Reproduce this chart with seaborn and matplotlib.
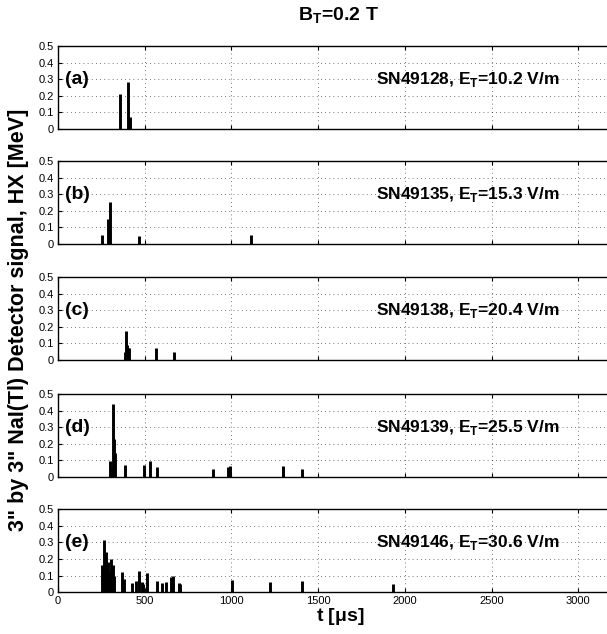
import matplotlib
matplotlib.use("Agg")
import matplotlib.pyplot as plt
import seaborn as sns
import pandas as pd

t_a = [358, 401, 415]
h_a = [0.21, 0.285, 0.075]

t_b = [252, 290, 298, 469, 1113]
h_b = [0.052, 0.15, 0.255, 0.05, 0.055]

t_c = [385, 392, 398, 404, 410, 566, 666]
h_c = [0.05, 0.176, 0.09, 0.07, 0.07, 0.072, 0.05]

t_d = [302, 310, 319, 323, 328, 389, 495, 528, 570, 895, 983, 990, 1295, 1300, 1404]
h_d = [0.096, 0.06, 0.438, 0.23, 0.145, 0.072, 0.07, 0.098, 0.058, 0.05, 0.06, 0.065, 0.06, 0.065, 0.05]

t_e = [255, 264, 278, 287, 296, 306, 316, 325, 370, 378, 428, 451, 467, 482, 490,
       512, 570, 597, 624, 650, 661, 697, 703, 1002, 1225, 1404, 1932]
h_e = [0.165, 0.315, 0.24, 0.18, 0.12, 0.2, 0.165, 0.1, 0.124, 0.08, 0.054, 0.07, 0.128, 0.06, 0.05,
       0.114, 0.068, 0.054, 0.06, 0.09, 0.1, 0.054, 0.05, 0.077, 0.06, 0.065, 0.05]

panel_tags = ["(a)", "(b)", "(c)", "(d)", "(e)"]
shots = ["SN49128", "SN49135", "SN49138", "SN49139", "SN49146"]
fields = ["10.2", "15.3", "20.4", "25.5", "30.6"]

df = pd.concat([
    pd.DataFrame({"t": t, "h": h, "panel": p})
    for t, h, p in zip([t_a, t_b, t_c, t_d, t_e], [h_a, h_b, h_c, h_d, h_e], panel_tags)
])

sns.set_style("ticks")
plt.rcParams["font.family"] = ["Liberation Sans", "DejaVu Sans"]
plt.rcParams["mathtext.fontset"] = "custom"
plt.rcParams["mathtext.rm"] = "Liberation Sans"
plt.rcParams["mathtext.bf"] = "Liberation Sans:bold"
plt.rcParams["text.color"] = "black"
plt.rcParams["axes.labelcolor"] = "black"
plt.rcParams["xtick.color"] = "black"
plt.rcParams["ytick.color"] = "black"

fig = plt.figure(figsize=(6.07, 6.34), dpi=100)
bottoms = [0.7965, 0.6151, 0.4322, 0.2476, 0.0658]
axes = []
for i, tag in enumerate(panel_tags):
    ax = fig.add_axes([0.0956, bottoms[i], 0.9285, 0.1309])
    sub = df[df.panel == tag]
    ax.vlines(sub.t, 0, sub.h, color="black", lw=2.1)
    ax.set_xlim(0, 3250)
    ax.set_ylim(0, 0.5)
    ax.set_xticks(range(0, 3001, 500))
    ax.set_yticks([0, 0.1, 0.2, 0.3, 0.4, 0.5])
    ax.set_yticklabels(["0", "0.1", "0.2", "0.3", "0.4", "0.5"])
    ax.grid(True, linestyle=(0, (1, 4)), color="black", lw=0.6, alpha=0.7)
    ax.tick_params(direction="in", top=True, right=True, length=3,
                   labelsize=8, width=0.8, pad=3)
    for s in ax.spines.values():
        s.set_linewidth(1.0)
        s.set_color("black")
    if i < 4:
        ax.set_xticklabels([])
    ax.text(40, 0.3, tag, fontsize=14, fontweight="bold", va="center", ha="left")
    ax.text(2360, 0.3, shots[i] + r", E$_{\mathbf{T}}$=" + fields[i] + " V/m",
            fontsize=12.5, fontweight="bold", va="center", ha="center")
    axes.append(ax)

axes[-1].set_xlabel(r"t [$\mathbf{\mu}$s]", fontsize=14, fontweight="bold", labelpad=0)
fig.text(0.557, 0.975, r"B$_{\mathbf{T}}$=0.2 T", fontsize=14, fontweight="bold",
         ha="center", va="center")
fig.text(0.03, 0.495, "3\" by 3\" NaI(Tl) Detector signal, HX [MeV]", fontsize=15.5,
         fontweight="bold", rotation=90, ha="center", va="center")

fig.savefig("out.png", dpi=100)
